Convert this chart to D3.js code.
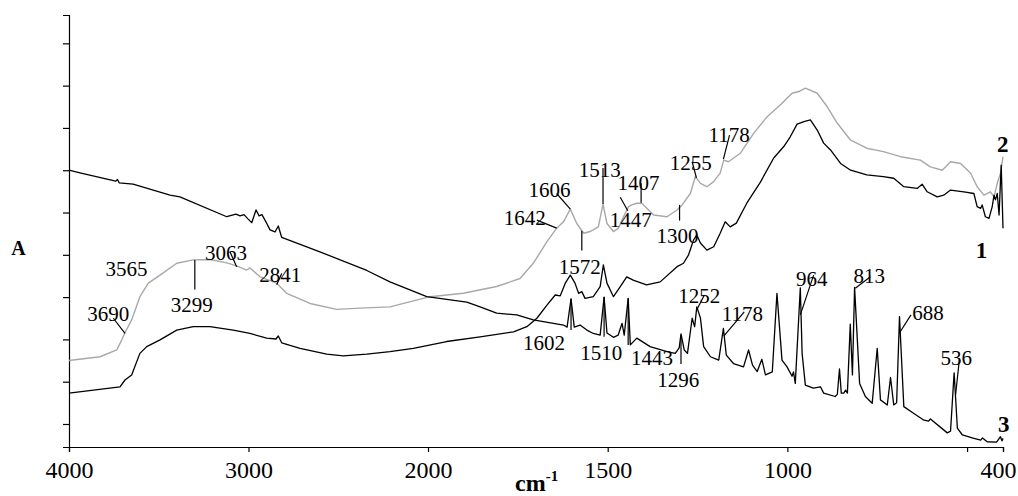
<!DOCTYPE html>
<html>
<head>
<meta charset="utf-8">
<script src="https://cdn.jsdelivr.net/npm/d3@7"></script>
<style>
  body { margin: 0; background: #fff; }
  svg text { font-family: "Liberation Serif", "Times New Roman", serif; fill: #000; }
</style>
</head>
<body>
<div id="chart"></div>
<script>
// Spectrum 1 (black, lower at 4000 cm-1): [wavenumber, A]
const spectrum1 = [[4000,0.73],[3716,0.88],[3688,1.04],[3651,1.16],[3605,1.67],[3567,1.83],[3493,1.99],[3400,2.22],[3308,2.30],[3215,2.30],[3085,2.22],[2992,2.14],[2899,2.03],[2847,2.01],[2834,2.08],[2815,1.92],[2713,1.79],[2564,1.65],[2472,1.61],[2341,1.65],[2212,1.71],[2082,1.79],[1948,1.95],[1855,2.06],[1762,2.18],[1725,2.30],[1697,2.50],[1669,2.81],[1646,3.05],[1632,3.03],[1618,3.33],[1604,3.52],[1591,3.33],[1581,3.09],[1572,3.13],[1563,2.97],[1540,3.01],[1521,3.25],[1512,3.76],[1502,3.33],[1484,3.01],[1465,3.25],[1447,3.48],[1429,3.40],[1392,3.29],[1354,3.36],[1307,3.72],[1289,3.80],[1275,4.00],[1261,4.35],[1252,4.47],[1242,4.28],[1224,4.11],[1205,4.19],[1187,4.51],[1173,4.78],[1159,4.66],[1142,4.75],[1113,5.22],[1075,5.72],[1038,6.29],[1010,6.56],[992,6.79],[973,7.09],[954,7.15],[936,7.19],[917,6.95],[899,6.64],[880,6.48],[852,6.16],[824,6.00],[779,5.89],[733,5.85],[704,5.81],[676,5.61],[639,5.57],[625,5.67],[611,5.49],[583,5.37],[565,5.41],[546,5.53],[509,5.49],[481,5.45],[472,5.14],[462,5.10],[458,5.18],[449,4.90],[439,4.86],[430,5.14],[425,5.41],[421,5.30],[416,5.45],[411,4.94],[405,6.12],[400,4.63]];

// Spectrum 2 (grey)
const spectrum2 = [[4000,1.50],[3827,1.59],[3734,1.75],[3706,1.99],[3688,2.16],[3651,2.46],[3605,3.01],[3558,3.33],[3493,3.52],[3400,3.80],[3308,3.88],[3215,3.89],[3121,3.81],[3066,3.74],[3010,3.64],[2992,3.69],[2936,3.48],[2843,3.33],[2787,3.09],[2657,2.85],[2509,2.71],[2379,2.74],[2212,2.77],[1994,3.01],[1902,3.09],[1809,3.25],[1744,3.44],[1707,3.80],[1669,4.31],[1642,4.63],[1623,4.78],[1604,5.08],[1586,4.74],[1567,4.51],[1549,4.55],[1526,4.66],[1513,5.20],[1502,4.74],[1484,4.55],[1470,4.63],[1456,4.90],[1442,5.14],[1433,5.18],[1419,5.22],[1405,5.22],[1391,5.10],[1372,4.94],[1335,4.90],[1307,5.06],[1293,5.18],[1270,5.45],[1256,5.85],[1242,5.69],[1224,5.61],[1205,5.73],[1187,5.93],[1177,6.24],[1164,6.20],[1131,6.40],[1094,6.87],[1057,7.26],[1020,7.54],[987,7.82],[968,7.86],[950,7.94],[917,7.82],[889,7.50],[861,7.11],[824,6.71],[779,6.52],[733,6.44],[685,6.32],[630,6.24],[602,6.08],[569,6.00],[546,6.20],[518,6.16],[490,5.93],[472,5.61],[453,5.41],[435,5.49],[425,5.37],[416,5.69],[407,5.93],[400,6.32]];

// Spectrum 3 (black, sharp bands)
const spectrum3 = [[4000,6.00],[3939,5.94],[3740,5.74],[3730,5.78],[3720,5.70],[3643,5.67],[3437,5.41],[3382,5.37],[3121,4.90],[3070,4.96],[3047,4.92],[3025,4.95],[3003,4.85],[2982,4.76],[2958,5.06],[2941,4.92],[2925,4.95],[2903,4.78],[2880,4.59],[2852,4.54],[2834,4.68],[2815,4.41],[2602,4.07],[2341,3.63],[2212,3.36],[2007,3.01],[1892,2.88],[1855,2.77],[1809,2.62],[1753,2.58],[1707,2.46],[1623,2.34],[1613,2.29],[1602,2.96],[1593,2.29],[1577,2.34],[1558,2.22],[1540,2.14],[1521,2.10],[1510,3.00],[1502,2.15],[1484,2.05],[1471,2.10],[1460,2.38],[1454,2.10],[1443,2.97],[1437,1.87],[1419,2.03],[1382,1.83],[1335,1.71],[1312,1.67],[1301,1.80],[1296,2.13],[1287,1.75],[1278,1.67],[1265,2.50],[1258,2.30],[1252,2.77],[1242,2.51],[1233,1.83],[1214,1.59],[1191,1.51],[1178,2.26],[1170,1.63],[1150,1.43],[1122,1.35],[1108,1.75],[1097,1.39],[1084,1.24],[1071,1.53],[1061,1.16],[1042,1.23],[1029,3.09],[1015,1.51],[1001,1.35],[987,1.13],[983,1.23],[978,0.96],[964,3.22],[959,1.67],[950,0.92],[928,0.85],[908,0.88],[899,0.73],[867,0.65],[861,0.70],[855,1.30],[850,0.73],[843,0.73],[838,0.80],[833,0.73],[825,2.36],[819,1.16],[813,3.23],[799,0.96],[783,0.65],[764,0.49],[750,1.79],[741,0.57],[722,0.45],[713,1.10],[704,0.45],[696,0.50],[688,2.54],[676,0.41],[648,0.25],[620,0.09],[607,0.07],[602,0.12],[555,-0.21],[546,-0.17],[536,1.21],[527,-0.10],[513,-0.26],[481,-0.34],[462,-0.38],[457,-0.33],[444,-0.42],[418,-0.43],[407,-0.30],[403,-0.40],[400,-0.34]];

// Axis ticks
const xTicks = [4000, 3000, 2000, 1500, 1000, 500, 400];
const xTickLabels = ["4000", "3000", "2000", "1500", "1000", "", "400"];
const yTicks = [0, 1, 2, 3, 4, 5, 6, 7, 8, 9];

// Band labels: text, label anchor [wn, A], leader line [wn1, A1, wn2, A2]
const bandLabels = [
  { text: "3565", at: [3679, 3.50], line: null },
  { text: "3690", at: [3781, 2.43], line: [3753, 2.50, 3688, 2.14] },
  { text: "3299", at: [3316, 2.65], line: [3299, 3.88, 3299, 3.18] },
  { text: "3063", at: [3126, 3.88], line: [3103, 4.07, 3066, 3.72] },
  { text: "2841", at: [2823, 3.36], line: [2815, 3.56, 2843, 3.29] },
  { text: "1642", at: [1731, 4.70], line: [1697, 4.82, 1642, 4.63] },
  { text: "1606", at: [1662, 5.37], line: [1642, 5.45, 1604, 5.08] },
  { text: "1572", at: [1578, 3.55], line: [1572, 4.57, 1572, 4.10] },
  { text: "1513", at: [1522, 5.83], line: [1513, 6.05, 1513, 5.20] },
  { text: "1407", at: [1414, 5.53], line: [1407, 5.69, 1407, 5.23] },
  { text: "1447", at: [1436, 4.66], line: [1465, 5.36, 1444, 5.04] },
  { text: "1300", at: [1306, 4.28], line: [1300, 5.18, 1300, 4.81] },
  { text: "1255", at: [1269, 6.00], line: [1265, 6.20, 1253, 5.82] },
  { text: "1178", at: [1162, 6.67], line: [1161, 6.83, 1178, 6.26] },
  { text: "1602", at: [1677, 1.75], line: [1602, 2.96, 1602, 2.22] },
  { text: "1510", at: [1518, 1.51], line: [1510, 3.00, 1510, 2.06] },
  { text: "1443", at: [1377, 1.39], line: [1443, 2.97, 1443, 1.87] },
  { text: "1296", at: [1304, 0.87], line: [1296, 2.10, 1296, 1.42] },
  { text: "1252", at: [1245, 2.86], line: [1231, 3.05, 1252, 2.70] },
  { text: "1178", at: [1125, 2.43], line: [1120, 2.65, 1177, 2.08] },
  { text: "964", at: [932, 3.26], line: [927, 3.52, 964, 2.58] },
  { text: "813", at: [772, 3.33], line: [769, 3.48, 811, 3.21] },
  { text: "688", at: [609, 2.46], line: [656, 2.58, 686, 2.18] },
  { text: "536", at: [530, 1.39], line: [521, 1.55, 532, 0.69] }
];

// Spectrum numbers
const curveLabels = [
  { text: "1", at: [460, 3.92] },
  { text: "2", at: [401, 6.43] },
  { text: "3", at: [398, -0.19] }
];

document.addEventListener('DOMContentLoaded', function () {
    const width = 1018, height = 496;

    const svg = d3.select("#chart")
        .append("svg")
        .attr("width", width)
        .attr("height", height);

    // Split wavenumber axis: 2000-400 region is expanded two-fold
    const x = d3.scaleLinear()
        .domain([4000, 2000, 400])
        .range([69, 428, 1003]);

    const y = d3.scaleLinear()
        .domain([-0.544, 9.67])
        .range([447, 15]);

    // Axes
    svg.append("g")
        .attr("transform", "translate(69,0)")
        .call(d3.axisLeft(y).tickValues(yTicks).tickSize(6).tickSizeOuter(6).tickFormat(""))
        .call(g => g.selectAll("path, line").attr("stroke", "#000").attr("stroke-width", 1.2));

    svg.append("g")
        .attr("transform", "translate(0,447)")
        .call(d3.axisBottom(x).tickValues(xTicks).tickSize(5).tickSizeOuter(5)
            .tickFormat((d, i) => xTickLabels[i]))
        .call(g => g.selectAll("path, line").attr("stroke", "#000").attr("stroke-width", 1.2))
        .call(g => g.selectAll("text")
            .attr("y", 31)
            .attr("dy", 0)
            .style("font-size", "24px")
            .style("font-family", "'Liberation Serif', serif")
            .attr("fill", "#000"))
        // last label sits inside the right edge, as in the original
        .call(g => g.selectAll(".tick text")
            .filter(d => d === 400)
            .attr("text-anchor", "end")
            .attr("x", 13));

    // Axis titles
    svg.append("text")
        .attr("x", 18.5).attr("y", 255)
        .attr("text-anchor", "middle")
        .style("font-size", "20px").style("font-weight", "bold")
        .text("A");

    const unit = svg.append("text")
        .attr("x", 515).attr("y", 491)
        .style("font-size", "24px").style("font-weight", "bold");
    unit.append("tspan").text("cm");
    unit.append("tspan").attr("dy", -10).style("font-size", "15px").text("-1");

    // Spectra
    const line = d3.line()
        .x(d => x(d[0]))
        .y(d => y(d[1]));

    svg.append("path").datum(spectrum2)
        .attr("fill", "none").attr("stroke", "#a8a8a8").attr("stroke-width", 1.4)
        .attr("stroke-linejoin", "round")
        .attr("d", line);

    [spectrum1, spectrum3].forEach(s => {
        svg.append("path").datum(s)
            .attr("fill", "none").attr("stroke", "#000").attr("stroke-width", 1.3)
            .attr("stroke-linejoin", "round")
            .attr("d", line);
    });

    // Band leader lines and labels
    svg.selectAll(".leader")
        .data(bandLabels.filter(d => d.line))
        .enter()
        .append("line")
        .attr("x1", d => x(d.line[0])).attr("y1", d => y(d.line[1]))
        .attr("x2", d => x(d.line[2])).attr("y2", d => y(d.line[3]))
        .attr("stroke", "#000").attr("stroke-width", 1.2);

    svg.selectAll(".band")
        .data(bandLabels)
        .enter()
        .append("text")
        .attr("x", d => x(d.at[0]))
        .attr("y", d => y(d.at[1]))
        .attr("text-anchor", "middle")
        .style("font-size", "21px")
        .text(d => d.text);

    svg.selectAll(".curve")
        .data(curveLabels)
        .enter()
        .append("text")
        .attr("x", d => x(d.at[0]))
        .attr("y", d => y(d.at[1]))
        .attr("text-anchor", "middle")
        .style("font-size", "23px").style("font-weight", "bold")
        .text(d => d.text);
});
</script>
</body>
</html>
